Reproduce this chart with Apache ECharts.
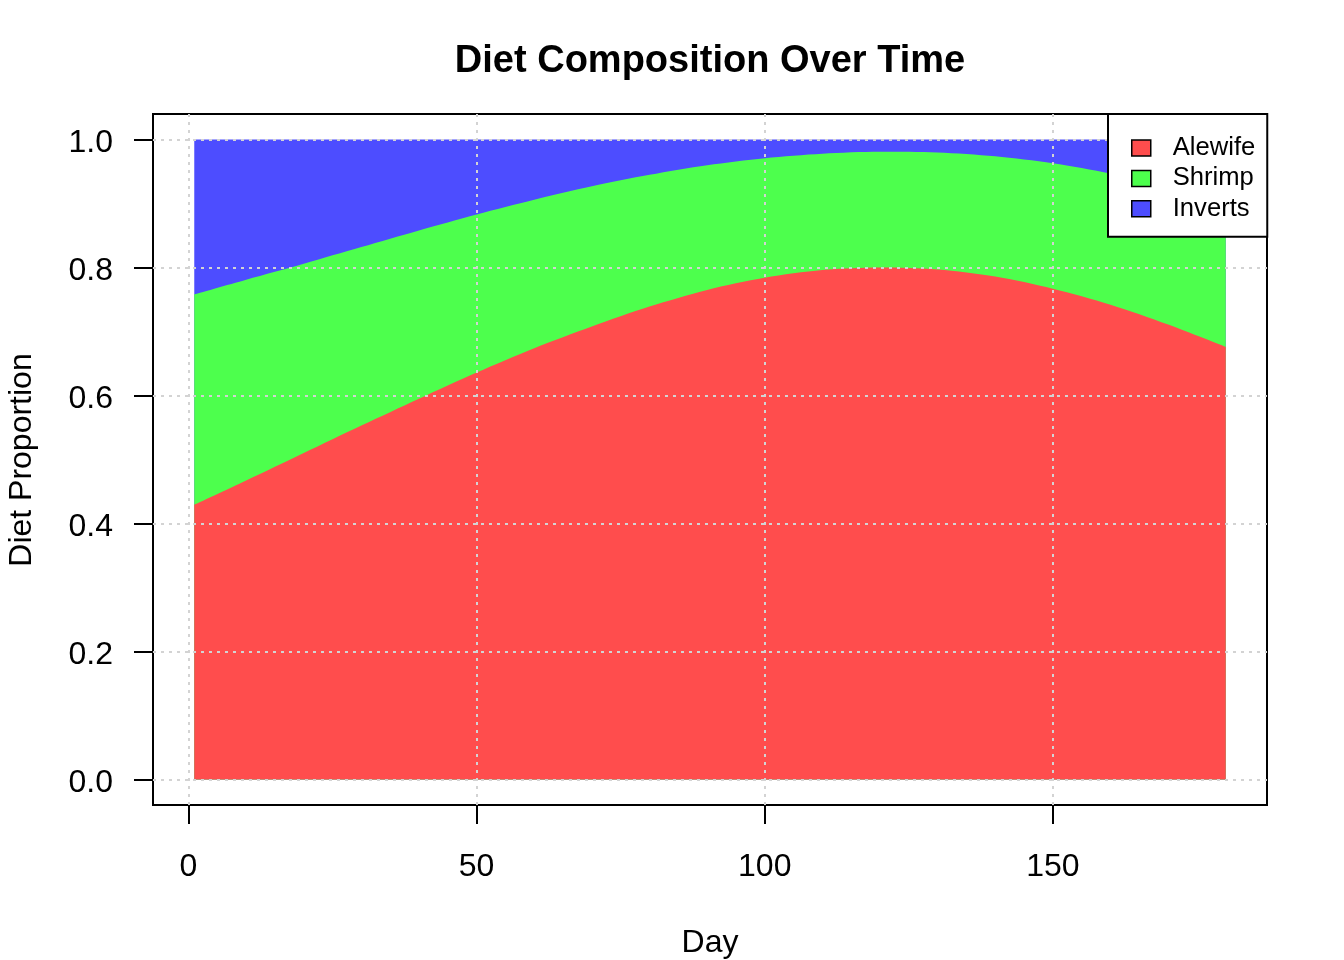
<!DOCTYPE html>
<html>
<head>
<meta charset="utf-8">
<title>Diet Composition Over Time</title>
<script src="https://cdn.jsdelivr.net/npm/echarts@6/dist/echarts.min.js"></script>
<style>
	html, body { margin: 0; padding: 0; background: #ffffff; }
	#chart { width: 1344px; height: 960px; }
</style>
</head>
<body>
<div id="chart"></div>
<script>
var days    = [1, 10, 20, 30, 40, 50, 60, 70, 80, 90, 100, 110, 120, 130, 140, 150, 160, 170, 180];
var alewife = [0.429, 0.467, 0.510, 0.553, 0.595, 0.636, 0.674, 0.708, 0.739, 0.765, 0.784, 0.796, 0.800, 0.797, 0.786, 0.767, 0.742, 0.711, 0.676];
var shrimp  = [0.329, 0.314, 0.296, 0.279, 0.263, 0.247, 0.232, 0.219, 0.206, 0.195, 0.187, 0.182, 0.181, 0.183, 0.188, 0.196, 0.205, 0.216, 0.228];
var inverts = [0.242, 0.219, 0.194, 0.168, 0.142, 0.117, 0.094, 0.073, 0.055, 0.040, 0.029, 0.022, 0.019, 0.020, 0.026, 0.037, 0.053, 0.073, 0.096];

var seriesNames = ['Alewife', 'Shrimp', 'Inverts'];
var xTicks = [0, 50, 100, 150];
var yTicks = [0, 0.2, 0.4, 0.6, 0.8, 1.0];

var chartColors = {
	alewife: '#ff4d4d',
	shrimp: '#4dff4d',
	inverts: '#4d4dff',
	grid: '#d3d3d3',
	ink: '#000000'
};
var fontFamily = '"Liberation Sans", Arial, Helvetica, sans-serif';

// cumulative tops of each band, like the R polygons (each one filled down to 0)
function cumulative(layers) {
	var out = [];
	for (var i = 0; i < days.length; i++) {
		var sum = 0;
		for (var k = 0; k < layers.length; k++) sum += layers[k][i];
		out.push([days[i], sum]);
	}
	return out;
}

function areaSeries(name, data, color, z) {
	return {
		name: name,
		type: 'line',
		data: data,
		z: z,
		smooth: 0.3,
		showSymbol: false,
		symbol: 'none',
		lineStyle: { width: 0 },
		itemStyle: { color: color },
		areaStyle: { color: color, opacity: 1 },
		silent: true,
		animation: false
	};
}

// R draws grid() on top of the polygons, so grid lines are markLines here
var gridLines = [];
for (var i = 0; i < xTicks.length; i++) gridLines.push({ xAxis: xTicks[i] });
for (var j = 0; j < yTicks.length; j++) gridLines.push({ yAxis: yTicks[j] });

var series = [
	areaSeries(seriesNames[0], cumulative([alewife]), chartColors.alewife, 4),
	areaSeries(seriesNames[1], cumulative([alewife, shrimp]), chartColors.shrimp, 3),
	areaSeries(seriesNames[2], cumulative([alewife, shrimp, inverts]), chartColors.inverts, 2),
	{
		type: 'line',
		data: [],
		silent: true,
		z: 5,
		markLine: {
			silent: true,
			symbol: ['none', 'none'],
			label: { show: false },
			animation: false,
			lineStyle: { color: chartColors.grid, type: [3, 5], width: 2 },
			data: gridLines
		}
	}
];

var chart = echarts.init(document.getElementById('chart'));
chart.setOption({
	backgroundColor: '#ffffff',
	animation: false,
	textStyle: { fontFamily: fontFamily },
	grid: {
		left: 153,
		right: 77,
		top: 114,
		bottom: 155,
		show: true,
		borderColor: chartColors.ink,
		borderWidth: 2,
		backgroundColor: 'transparent'
	},
	xAxis: {
		type: 'value',
		min: -6.16,
		max: 187.16,
		axisLine: { show: false, onZero: false },
		splitLine: { show: false },
		axisTick: {
			show: true,
			customValues: xTicks,
			length: 19,
			lineStyle: { color: chartColors.ink, width: 2 }
		},
		axisLabel: {
			customValues: xTicks,
			margin: 46,
			fontSize: 32,
			color: chartColors.ink,
			fontFamily: fontFamily
		}
	},
	yAxis: {
		type: 'value',
		min: -0.04,
		max: 1.04,
		axisLine: { show: false, onZero: false },
		splitLine: { show: false },
		axisTick: {
			show: true,
			customValues: yTicks,
			length: 19,
			lineStyle: { color: chartColors.ink, width: 2 }
		},
		axisLabel: {
			customValues: yTicks,
			margin: 40,
			color: chartColors.ink,
			formatter: function (v) { return '{t|' + v.toFixed(1) + '}'; },
			rich: {
				t: {
					fontSize: 32,
					fontFamily: fontFamily,
					color: chartColors.ink,
					lineHeight: 32,
					padding: [7, 0, 0, 0]
				}
			}
		}
	},
	legend: {
		data: seriesNames,
		orient: 'vertical',
		left: 1108,
		top: 114,
		padding: [21, 12, 15, 23],
		itemWidth: 19,
		itemHeight: 16,
		itemGap: 4.4,
		icon: 'rect',
		backgroundColor: '#ffffff',
		borderColor: chartColors.ink,
		borderWidth: 2,
		borderRadius: 0,
		selectedMode: false,
		z: 10,
		itemStyle: { borderColor: chartColors.ink, borderWidth: 1.5 },
		textStyle: {
			fontSize: 25.6,
			color: chartColors.ink,
			fontFamily: fontFamily,
			padding: [0, 0, 0, 17]
		}
	},
	graphic: [
		{
			type: 'text',
			style: {
				text: 'Diet Composition Over Time',
				x: 710,
				y: 62,
				align: 'center',
				verticalAlign: 'middle',
				font: 'bold 38px ' + fontFamily,
				fill: chartColors.ink
			}
		},
		{
			type: 'text',
			style: {
				text: 'Day',
				x: 710,
				y: 943,
				align: 'center',
				verticalAlign: 'middle',
				font: '32px ' + fontFamily,
				fill: chartColors.ink
			}
		},
		{
			type: 'text',
			x: 22,
			y: 460,
			rotation: Math.PI / 2,
			style: {
				text: 'Diet Proportion',
				x: 0,
				y: 0,
				align: 'center',
				verticalAlign: 'middle',
				font: '32px ' + fontFamily,
				fill: chartColors.ink
			}
		}
	],
	series: series
});
</script>
</body>
</html>
